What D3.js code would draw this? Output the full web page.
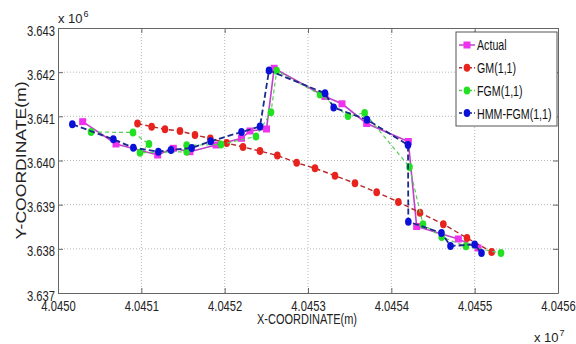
<!DOCTYPE html>
<html>
<head>
<meta charset="utf-8">
<script src="https://cdn.jsdelivr.net/npm/d3@7"></script>
<style>
  body { margin: 0; background: #fff; }
  svg { display: block; font-family: "Liberation Sans", Arial, sans-serif; }
</style>
</head>
<body>
<svg class="track" width="576" height="344"></svg>
<script>
// coordinates in metres
var actualX = [40450296, 40450696, 40451196, 40451384, 40451584, 40451896, 40452202, 40452304, 40452502, 40452594, 40453204, 40453408, 40453704, 40454204, 40454304, 40454804, 40455040];
var actualY = [3640879, 3640374, 3640125, 3640276, 3640199, 3640351, 3640503, 3640668, 3640713, 3642088, 3641449, 3641284, 3640838, 3640430, 3638506, 3638223, 3638019];

var gmX = [40450954, 40451124, 40451284, 40451464, 40451644, 40451828, 40452024, 40452220, 40452424, 40452632, 40452864, 40453084, 40453324, 40453564, 40453824, 40454084, 40454344, 40454624, 40454908, 40455204];
var gmY = [3640838, 3640765, 3640707, 3640668, 3640578, 3640498, 3640396, 3640306, 3640215, 3640113, 3639950, 3639824, 3639656, 3639484, 3639280, 3639061, 3638818, 3638558, 3638246, 3637929];

var fgmX = [40450396, 40450900, 40451092, 40450984, 40451544, 40451544, 40451956, 40452376, 40452556, 40452624, 40453144, 40453480, 40453680, 40454218, 40454380, 40454604, 40454896, 40455316];
var fgmY = [3640645, 3640634, 3640374, 3640177, 3640199, 3640344, 3640362, 3640544, 3641091, 3642033, 3641494, 3641008, 3641076, 3639853, 3638556, 3638268, 3638058, 3637906];

var hmmX = [40450172, 40450664, 40450904, 40451204, 40451356, 40451604, 40451832, 40452202, 40452424, 40452532, 40453204, 40453308, 40453708, 40454200, 40454204, 40454602, 40454710, 40455000, 40455082];
var hmmY = [3640820, 3640480, 3640290, 3640199, 3640238, 3640283, 3640435, 3640645, 3640770, 3642038, 3641522, 3641200, 3640924, 3640351, 3638615, 3638359, 3638064, 3638098, 3637906];

var xTicks = [40450000, 40451000, 40452000, 40453000, 40454000, 40455000, 40456000];
var yTicks = [3637000, 3638000, 3639000, 3640000, 3641000, 3642000, 3643000];

var seriesNames = ["Actual", "GM(1,1)", "FGM(1,1)", "HMM-FGM(1,1)"];

var svg = d3.select("svg.track"),
    margin = {top: 28, right: 18, bottom: 51, left: 58},
    width = svg.attr("width") - margin.left - margin.right,
    height = svg.attr("height") - margin.top - margin.bottom,
    g = svg.append("g").attr("transform", "translate(" + margin.left + "," + margin.top + ")");

var x = d3.scaleLinear().domain([40450000, 40456000]).range([0, width]),
    y = d3.scaleLinear().domain([3637000, 3643000]).range([height, 0]);

function zip(xs, ys) {
    return xs.map(function(v, i) { return {x: v, y: ys[i]}; });
}

// the figure's font is a narrow one, squeeze the glyphs to match
function squeeze(sel, k) {
    sel.each(function() {
        var n = this.getComputedTextLength();
        d3.select(this).attr("textLength", n * k).attr("lengthAdjust", "spacingAndGlyphs");
    });
}

var series = [
    {name: seriesNames[0], values: zip(actualX, actualY), line: "#c040cc", mark: "#ee33ee", dash: null, width: 1.6, shape: "square"},
    {name: seriesNames[1], values: zip(gmX, gmY), line: "#b82828", mark: "#e8221c", dash: "5,3", width: 1.4, shape: "dot"},
    {name: seriesNames[2], values: zip(fgmX, fgmY), line: "#55cc55", mark: "#22e022", dash: "4,3", width: 1.2, shape: "dot"},
    {name: seriesNames[3], values: zip(hmmX, hmmY), line: "#1c2a8c", mark: "#0a10d8", dash: "6,3", width: 1.8, shape: "dot"}
];

// grid
g.append("g").selectAll("line")
    .data(xTicks.slice(1, -1))
    .enter().append("line")
    .attr("x1", function(d) { return x(d); })
    .attr("x2", function(d) { return x(d); })
    .attr("y1", 0)
    .attr("y2", height)
    .style("stroke", "#b8b8b8")
    .style("stroke-dasharray", "1,2");

g.append("g").selectAll("line")
    .data(yTicks.slice(1, -1))
    .enter().append("line")
    .attr("y1", function(d) { return y(d); })
    .attr("y2", function(d) { return y(d); })
    .attr("x1", 0)
    .attr("x2", width)
    .style("stroke", "#b8b8b8")
    .style("stroke-dasharray", "1,2");

// axes, MATLAB style box with inward ticks
var fx = function(d) { return (d / 1e7).toFixed(4); },
    fy = function(d) { return (d / 1e6).toFixed(3); };

var xAxis = g.append("g")
    .attr("class", "axis axis--x")
    .attr("transform", "translate(0," + height + ")")
    .call(d3.axisBottom(x).tickValues(xTicks).tickFormat(fx).tickSizeInner(-5).tickSizeOuter(0).tickPadding(8));

var yAxis = g.append("g")
    .attr("class", "axis axis--y")
    .call(d3.axisLeft(y).tickValues(yTicks).tickFormat(fy).tickSizeInner(-5).tickSizeOuter(0).tickPadding(3));

g.append("g")
    .attr("class", "axis axis--top")
    .call(d3.axisTop(x).tickValues(xTicks).tickFormat("").tickSizeInner(-5).tickSizeOuter(0));

g.append("g")
    .attr("class", "axis axis--right")
    .attr("transform", "translate(" + width + ",0)")
    .call(d3.axisRight(y).tickValues(yTicks).tickFormat("").tickSizeInner(-5).tickSizeOuter(0));

g.selectAll(".axis path, .axis line").style("stroke", "#666");
g.selectAll(".axis text").style("font-size", "14px").style("fill", "#222");
yAxis.selectAll("text").attr("dy", "0.5em");
squeeze(g.selectAll(".axis text"), 0.8);

// tracks
var line = d3.line()
    .x(function(d) { return x(d.x); })
    .y(function(d) { return y(d.y); });

var track = g.selectAll(".track-series")
    .data(series)
    .enter().append("g")
    .attr("class", "track-series");

track.append("path")
    .attr("d", function(d) { return line(d.values); })
    .style("fill", "none")
    .style("stroke", function(d) { return d.line; })
    .style("stroke-width", function(d) { return d.width; })
    .style("stroke-dasharray", function(d) { return d.dash; });

function drawMarker(sel, s) {
    if (s.shape === "square") {
        sel.append("rect")
            .attr("x", -3.5).attr("y", -3.5)
            .attr("width", 7).attr("height", 7)
            .style("fill", s.mark);
    } else {
        sel.append("ellipse")
            .attr("rx", 3.3).attr("ry", 4)
            .style("fill", s.mark);
    }
}

track.each(function(s) {
    d3.select(this).selectAll(".mk")
        .data(s.values)
        .enter().append("g")
        .attr("class", "mk")
        .attr("transform", function(d) { return "translate(" + x(d.x) + "," + y(d.y) + ")"; })
        .each(function() { drawMarker(d3.select(this), s); });
});

// legend
var legend = svg.append("g").attr("transform", "translate(456,32)");
legend.append("rect")
    .attr("width", 101)
    .attr("height", 94)
    .style("fill", "#fff")
    .style("stroke", "#555");

var item = legend.selectAll(".item")
    .data(series)
    .enter().append("g")
    .attr("class", "item")
    .attr("transform", function(d, i) { return "translate(0," + (13 + i * 22.7) + ")"; });

item.append("line")
    .attr("x1", 3).attr("x2", 19)
    .style("stroke", function(d) { return d.line; })
    .style("stroke-width", 1.5)
    .style("stroke-dasharray", function(d) { return d.dash ? "3,2" : null; });

item.each(function(s) {
    var m = d3.select(this).append("g").attr("transform", "translate(11,0)");
    drawMarker(m, s);
});

var legendText = item.append("text")
    .attr("x", 21)
    .attr("dy", "0.36em")
    .style("font-size", "15px")
    .style("fill", "#111")
    .text(function(d) { return d.name; });
squeeze(legendText, 0.71);

// axis titles and exponents
svg.append("text")
    .attr("x", margin.left + 249)
    .attr("y", 324)
    .attr("text-anchor", "middle")
    .attr("textLength", 100)
    .attr("lengthAdjust", "spacingAndGlyphs")
    .style("font-size", "14px")
    .style("fill", "#222")
    .text("X-COORDINATE(m)");

svg.append("text")
    .attr("transform", "translate(26," + (margin.top + height / 2) + ") rotate(-90)")
    .attr("text-anchor", "middle")
    .attr("textLength", 158)
    .attr("lengthAdjust", "spacingAndGlyphs")
    .style("font-size", "15px")
    .style("fill", "#222")
    .text("Y-COORDINATE(m)");

var ex1 = svg.append("text").attr("x", 58).attr("y", 23).style("font-size", "13px").style("fill", "#222");
ex1.append("tspan").text("x 10");
ex1.append("tspan").attr("dx", 1).attr("dy", -6).style("font-size", "9px").text("6");

var ex2 = svg.append("text").attr("x", 534).attr("y", 342).style("font-size", "13px").style("fill", "#222");
ex2.append("tspan").text("x 10");
ex2.append("tspan").attr("dx", 1).attr("dy", -6).style("font-size", "9px").text("7");
</script>
</body>
</html>
